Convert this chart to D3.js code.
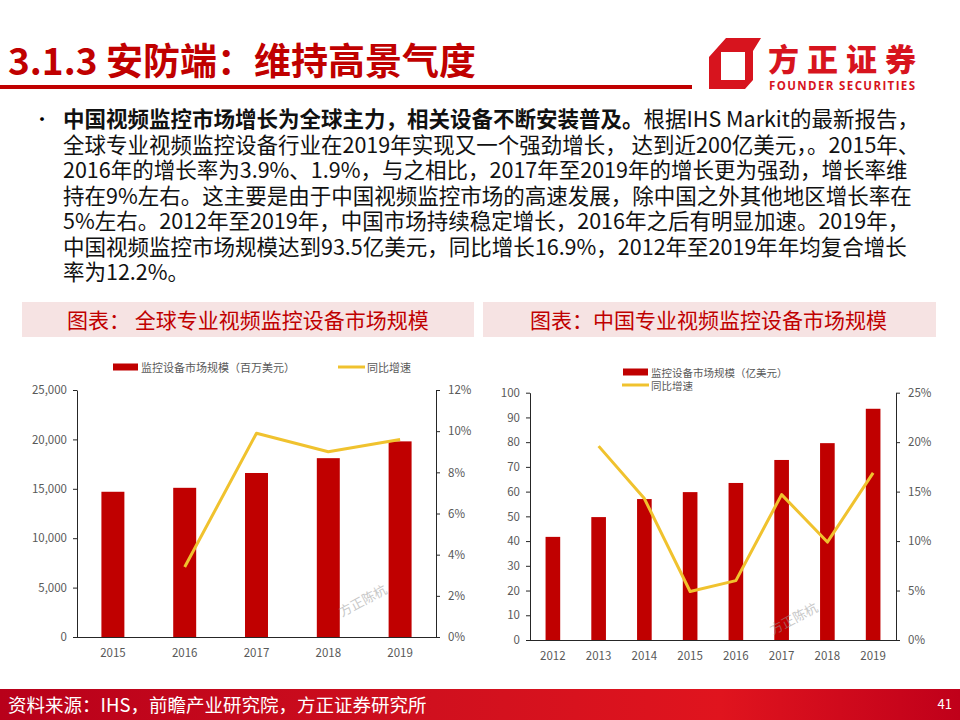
<!DOCTYPE html>
<html><head><meta charset="utf-8">
<script src="https://cdn.jsdelivr.net/npm/d3@7"></script>
<style>
html,body{margin:0;padding:0;background:#fff;}
svg{display:block;font-family:"Noto Sans CJK SC","Noto Sans",sans-serif;}
</style></head>
<body>
<svg id="c" width="960" height="720"></svg>
<script>
// ---- data ----
const globalYears = ["2015","2016","2017","2018","2019"];
const globalMarket = [14700, 15100, 16600, 18100, 19800];   // 百万美元
const globalGrowth = [null, 0.034, 0.099, 0.090, 0.096];
const globalLeftTicks = [0, 5000, 10000, 15000, 20000, 25000];
const globalRightTicks = [0, 0.02, 0.04, 0.06, 0.08, 0.10, 0.12];

const chinaYears = ["2012","2013","2014","2015","2016","2017","2018","2019"];
const chinaMarket = [41.7, 49.7, 57.0, 59.8, 63.5, 72.8, 79.6, 93.5];  // 亿美元
const chinaGrowth = [null, 0.196, 0.143, 0.049, 0.060, 0.147, 0.099, 0.169];
const chinaLeftTicks = [0,10,20,30,40,50,60,70,80,90,100];
const chinaRightTicks = [0, 0.05, 0.10, 0.15, 0.20, 0.25];

const titleText = "3.1.3 安防端：维持高景气度";
const bodyBold = "中国视频监控市场增长为全球主力，相关设备不断安装普及。";
const bodyLines = [
  "根据IHS Markit的最新报告，",
  "全球专业视频监控设备行业在2019年实现又一个强劲增长， 达到近200亿美元，。2015年、",
  "2016年的增长率为3.9%、1.9%，与之相比，2017年至2019年的增长更为强劲，增长率维",
  "持在9%左右。这主要是由于中国视频监控市场的高速发展，除中国之外其他地区增长率在",
  "5%左右。2012年至2019年，中国市场持续稳定增长，2016年之后有明显加速。2019年，",
  "中国视频监控市场规模达到93.5亿美元，同比增长16.9%，2012年至2019年年均复合增长",
  "率为12.2%。"
];
const headerLeft = "图表： 全球专业视频监控设备市场规模";
const headerRight = "图表：中国专业视频监控设备市场规模";
const legendLeft = ["监控设备市场规模（百万美元）", "同比增速"];
const legendRight = ["监控设备市场规模（亿美元）", "同比增速"];
const sourceText = "资料来源：IHS，前瞻产业研究院，方正证券研究所";
const pageNum = "41";
const watermark = "方正陈杭";

const RED = "#C00000", GOLD = "#F0C22E", AX = "#262626", LBL = "#595959";
const svg = d3.select("#c");
const defs = svg.append("defs");

// ---- title ----
svg.append("text").attr("x", 8).attr("y", 75).attr("font-size", 37).attr("font-weight", 700)
  .attr("fill", RED).text(titleText);
svg.append("rect").attr("x", 0).attr("y", 85).attr("width", 692).attr("height", 4).attr("fill", RED);

// ---- logo ----
const lg = svg.append("g");
lg.append("path").attr("fill-rule", "evenodd").attr("fill", "#D7141E")
  .attr("d", "M726,38 L761,38 L753,51 L753,80 L745,89 L709,89 L709,57 Z M721,52 L745,52 L745,80 L721,80 Z");
lg.append("text").attr("x", 768).attr("y", 71).attr("font-size", 31).attr("font-weight", 900)
  .attr("fill", "#D7141E").attr("textLength", 148).text("方正证券");
lg.append("text").attr("x", 769).attr("y", 90).attr("font-size", 11.5).attr("font-weight", 700)
  .attr("fill", "#D7141E").attr("font-family", "Open Sans, sans-serif").attr("textLength", 146).text("FOUNDER SECURITIES");

// ---- body text ----
svg.append("text").attr("x", 33).attr("y", 126).attr("font-size", 18).attr("fill", "#000").text("•");
bodyLines.forEach((ln, i) => {
  const t = svg.append("text").attr("x", 63).attr("y", 127 + i * 25.5).attr("font-size", 21.5).attr("fill", "#111");
  if (i === 0) {
    t.append("tspan").attr("font-weight", 700).text(bodyBold);
  }
  t.append("tspan").text(ln);
});

// ---- header boxes ----
[[22, 474, headerLeft, 67], [483, 936, headerRight, 530]].forEach(([x0, x1, txt, tx]) => {
  svg.append("rect").attr("x", x0).attr("y", 302).attr("width", x1 - x0).attr("height", 35).attr("fill", "#F6E3E3");
  svg.append("text").attr("x", tx).attr("y", 328).attr("font-size", 21).attr("fill", RED).text(txt);
});

// ---- chart builder ----
function chart(cfg) {
  const g = svg.append("g");
  const x = d3.scaleBand().domain(cfg.cats).range([cfg.x0, cfg.x1]).paddingInner(0.68).paddingOuter(0.34);
  const yL = d3.scaleLinear().domain([cfg.leftTicks[0], cfg.leftTicks[cfg.leftTicks.length - 1]]).range([cfg.y0, cfg.y1]);
  const yR = d3.scaleLinear().domain([cfg.rightTicks[0], cfg.rightTicks[cfg.rightTicks.length - 1]]).range([cfg.y0, cfg.y1]);

  g.selectAll("rect.bar").data(cfg.cats).join("rect").attr("class", "bar")
    .attr("x", d => x(d)).attr("width", x.bandwidth())
    .attr("y", (d, i) => yL(cfg.bars[i])).attr("height", (d, i) => yL(0) - yL(cfg.bars[i]))
    .attr("fill", RED);

  const pts = cfg.cats.map((c, i) => [c, cfg.growth[i]]).filter(p => p[1] != null);
  g.append("path").datum(pts).attr("fill", "none").attr("stroke", GOLD).attr("stroke-width", 3)
    .attr("stroke-linejoin", "round")
    .attr("d", d3.line().x(p => x(p[0]) + x.bandwidth() / 2).y(p => yR(p[1])));

  const axL = g.append("g").attr("transform", `translate(${cfg.x0},0)`)
    .call(d3.axisLeft(yL).tickValues(cfg.leftTicks).tickSize(4).tickSizeOuter(0).tickPadding(6).tickFormat(cfg.leftFmt));
  const axR = g.append("g").attr("transform", `translate(${cfg.x1},0)`)
    .call(d3.axisRight(yR).tickValues(cfg.rightTicks).tickSize(4).tickSizeOuter(0).tickPadding(8).tickFormat(d3.format(".0%")));
  const axB = g.append("g").attr("transform", `translate(0,${cfg.y0})`)
    .call(d3.axisBottom(x).tickSize(0).tickPadding(12));
  axB.select(".domain").attr("d", `M${cfg.x0 - 4},0.5H${cfg.x1 + 4}`);
  [axL, axR, axB].forEach(a => {
    a.select(".domain").attr("stroke", AX);
    a.selectAll(".tick line").attr("stroke", AX);
    a.selectAll("text").attr("fill", LBL).attr("font-size", 11.5)
      .attr("font-family", "'Noto Sans CJK SC','Open Sans',sans-serif");
  });

  // legend
  const lgd = g.append("g").attr("font-size", cfg.legFont).attr("fill", LBL);
  lgd.append("rect").attr("x", cfg.leg[0]).attr("y", cfg.leg[1] - 3.5).attr("width", 25).attr("height", 7).attr("fill", RED);
  lgd.append("text").attr("x", cfg.leg[0] + 28).attr("y", cfg.leg[1]).attr("dominant-baseline", "central").text(cfg.legText[0]);
  lgd.append("line").attr("x1", cfg.leg[2]).attr("x2", cfg.leg[2] + 27).attr("y1", cfg.leg[3]).attr("y2", cfg.leg[3])
    .attr("stroke", GOLD).attr("stroke-width", 3);
  lgd.append("text").attr("x", cfg.leg[2] + 29).attr("y", cfg.leg[3]).attr("dominant-baseline", "central").text(cfg.legText[1]);

  // watermark
  g.append("text").attr("transform", `translate(${cfg.wm[0]},${cfg.wm[1]}) rotate(-28)`)
    .attr("font-size", 13).attr("fill", "#9a9a9a").attr("opacity", 0.55).text(watermark);
}

chart({
  cats: globalYears, bars: globalMarket, growth: globalGrowth,
  leftTicks: globalLeftTicks, rightTicks: globalRightTicks, leftFmt: d3.format(","),
  x0: 77, x1: 436, y0: 637, y1: 390,
  leg: [113, 367, 338, 367], legText: legendLeft, legFont: 11, wm: [342, 617]
});
chart({
  cats: chinaYears, bars: chinaMarket, growth: chinaGrowth,
  leftTicks: chinaLeftTicks, rightTicks: chinaRightTicks, leftFmt: d3.format("d"),
  x0: 530, x1: 896, y0: 640, y1: 392.7,
  leg: [623, 372, 622, 385], legText: legendRight, legFont: 10.5, wm: [773, 635]
});

// ---- footer ----
const grad = defs.append("linearGradient").attr("id", "fg").attr("x1", 0).attr("x2", 1);
grad.append("stop").attr("offset", 0).attr("stop-color", "#B8001A");
grad.append("stop").attr("offset", 0.45).attr("stop-color", "#D0101E");
grad.append("stop").attr("offset", 0.75).attr("stop-color", "#E0141E");
grad.append("stop").attr("offset", 1).attr("stop-color", "#C0001A");
svg.append("rect").attr("x", 0).attr("y", 689).attr("width", 960).attr("height", 31).attr("fill", "url(#fg)");
svg.append("text").attr("x", 8).attr("y", 712).attr("font-size", 18.5).attr("fill", "#fff").text(sourceText);
svg.append("text").attr("x", 952).attr("y", 709).attr("font-size", 13).attr("fill", "#fff").attr("text-anchor", "end").text(pageNum);
</script>
</body></html>
